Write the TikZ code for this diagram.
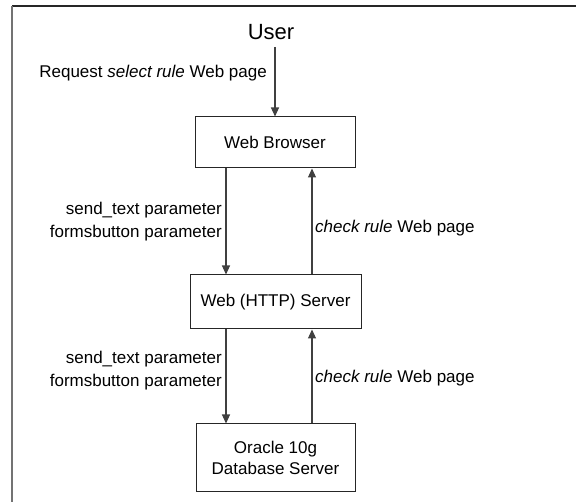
\documentclass[tikz,border=0pt]{standalone}
\usepackage{fontspec}
\setmainfont{Liberation Sans}
\usetikzlibrary{arrows.meta}
\begin{document}
\begin{tikzpicture}[x=1pt,y=-1pt,
  box/.style={draw=black!85, line width=1pt, inner sep=0pt, font=\fontsize{17}{21}\selectfont, align=center},
  lbl/.style={font=\fontsize{17}{23}\selectfont, inner sep=0pt},
  conn/.style={draw=black!75, line width=1.1pt, -{Triangle[width=8pt,length=9pt]}}]
\useasboundingbox (0,0) rectangle (576,502);
% frame (cropped)
\draw[black!85, line width=1.5pt] (12,6) -- (576,6);
\draw[black!55, line width=2pt] (12,6) -- (12,502);
% nodes
\node[font=\fontsize{22}{26}\selectfont, inner sep=0pt] (user) at (271,32) {User};
\node[box, minimum width=160pt, minimum height=51pt] (wb) at (275,142.5) {Web Browser};
\node[box, minimum width=171pt, minimum height=54pt] (hs) at (275.5,302) {Web (HTTP) Server};
\node[box, minimum width=159pt, minimum height=68pt] (db) at (275.5,458) {Oracle 10g\\Database Server};
% connectors
\coordinate (u1) at (275,47);
\draw[conn] (u1) -- (u1 |- wb.north);
\coordinate (a1) at (226,0);
\coordinate (b1) at (312,0);
\draw[conn] (a1 |- wb.south) -- (a1 |- hs.north);
\draw[conn] (b1 |- hs.north) -- (b1 |- wb.south);
\draw[conn] (a1 |- hs.south) -- (a1 |- db.north);
\draw[conn] (b1 |- db.north) -- (b1 |- hs.south);
% labels
\node[lbl, anchor=east] (l0) at (267,73) {Request \textit{select rule} Web page};
\node[lbl, anchor=east, align=right] (l1) at (222,221.5) {send\_text parameter\\formsbutton parameter};
\node[lbl, anchor=west] (l2) at (315,228) {\textit{check rule} Web page};
\node[lbl, anchor=east, align=right] (l3) at (222,371) {send\_text parameter\\formsbutton parameter};
\node[lbl, anchor=west] (l4) at (315,378) {\textit{check rule} Web page};
\end{tikzpicture}
\end{document}
